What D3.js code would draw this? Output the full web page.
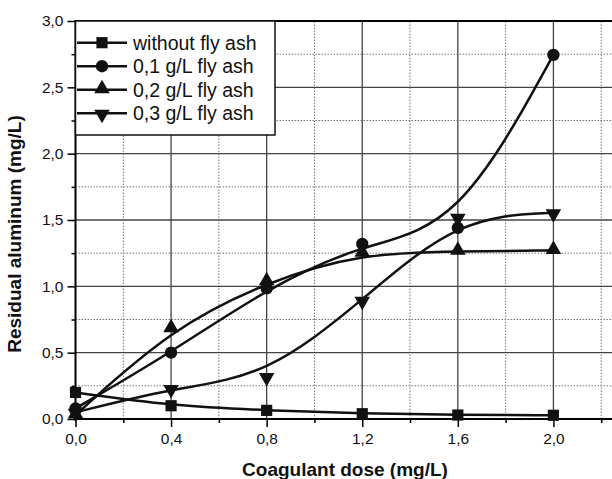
<!DOCTYPE html>
<html><head><meta charset="utf-8">
<script src="https://cdn.jsdelivr.net/npm/d3@7"></script>
<style>
html,body{margin:0;padding:0;background:#fff;}
svg{display:block;font-family:"Liberation Sans",Arial,sans-serif;}
</style></head>
<body>
<svg id="c" width="612" height="479"></svg>
<script>
const doses = [0.0, 0.4, 0.8, 1.2, 1.6, 2.0];
const seriesNames = ["without fly ash", "0,1 g/L fly ash", "0,2 g/L fly ash", "0,3 g/L fly ash"];
const withoutFlyAsh = [0.20, 0.10, 0.065, 0.04, 0.03, 0.028];
const flyAsh01 = [0.08, 0.50, 0.985, 1.32, 1.44, 2.745];
const flyAsh02 = [0.03, 0.68, 1.035, 1.25, 1.265, 1.27];
const flyAsh03 = [0.05, 0.23, 0.32, 0.895, 1.52, 1.555];
const markerTypes = ["square", "circle", "up", "down"];
const xTicks = [0.0, 0.4, 0.8, 1.2, 1.6, 2.0];
const yTicks = [0.0, 0.5, 1.0, 1.5, 2.0, 2.5, 3.0];

const svg = d3.select("#c");
const x = d3.scaleLinear().domain([0, 2.4]).range([75.5, 649]);
const y = d3.scaleLinear().domain([0, 3.0]).range([419, 21]);
const fmt = d => d.toFixed(1).replace(".", ",");

svg.append("defs").append("clipPath").attr("id", "pc")
  .append("rect").attr("x", 75).attr("y", 15).attr("width", 540).attr("height", 410);

const grid = svg.append("g").attr("clip-path", "url(#pc)");
const xMinor = d3.range(0.2, 2.41, 0.4);
const yMinor = d3.range(0.25, 3.0, 0.5);
grid.selectAll(".xm").data(xMinor).join("line")
  .attr("x1", d => x(d)).attr("x2", d => x(d)).attr("y1", y(0)).attr("y2", y(3))
  .attr("stroke", "#777").attr("stroke-width", 1).attr("stroke-dasharray", "1.5,1.5");
grid.selectAll(".ym").data(yMinor).join("line")
  .attr("x1", x(0)).attr("x2", 612).attr("y1", d => y(d)).attr("y2", d => y(d))
  .attr("stroke", "#777").attr("stroke-width", 1).attr("stroke-dasharray", "1.5,1.5");
grid.selectAll(".xM").data(xTicks.slice(1)).join("line")
  .attr("x1", d => x(d)).attr("x2", d => x(d)).attr("y1", y(0)).attr("y2", y(3))
  .attr("stroke", "#444").attr("stroke-width", 1.3);
grid.selectAll(".yM").data(yTicks.slice(1, -1)).join("line")
  .attr("x1", x(0)).attr("x2", 612).attr("y1", d => y(d)).attr("y2", d => y(d))
  .attr("stroke", "#444").attr("stroke-width", 1.3);

// axes
const yAxis = svg.append("g").attr("transform", `translate(${x(0)},0)`)
  .call(d3.axisLeft(y).tickValues(yTicks).tickFormat(fmt).tickSize(8).tickPadding(4));
const yAxisMinor = svg.append("g").attr("transform", `translate(${x(0)},0)`)
  .call(d3.axisLeft(y).tickValues(yMinor).tickFormat("").tickSize(4));
const xAxis = svg.append("g").attr("transform", `translate(0,${y(0)})`)
  .call(d3.axisBottom(x).tickValues(xTicks.concat([2.4])).tickFormat(d => d > 2.1 ? "" : fmt(d)).tickSize(8).tickPadding(6));
const xAxisMinor = svg.append("g").attr("transform", `translate(0,${y(0)})`)
  .call(d3.axisBottom(x).tickValues(xMinor).tickFormat("").tickSize(4));
[yAxis, yAxisMinor, xAxis, xAxisMinor].forEach(g => {
  g.select(".domain").remove();
  g.selectAll(".tick line").attr("stroke", "#000").attr("stroke-width", 1.5);
  g.selectAll("text").attr("font-size", 15.5).attr("fill", "#111")
    .attr("font-family", "'Liberation Sans',Arial,sans-serif");
});
svg.append("line").attr("x1", x(0)).attr("x2", x(0)).attr("y1", y(3) - 1).attr("y2", y(0) + 1)
  .attr("stroke", "#000").attr("stroke-width", 2);
svg.append("line").attr("x1", x(0)).attr("x2", 612).attr("y1", y(0)).attr("y2", y(0))
  .attr("stroke", "#000").attr("stroke-width", 2);
svg.append("line").attr("x1", x(0)).attr("x2", 612).attr("y1", y(3)).attr("y2", y(3))
  .attr("stroke", "#000").attr("stroke-width", 2);

// axis titles
svg.append("text").attr("x", 345).attr("y", 476).attr("text-anchor", "middle")
  .attr("font-size", 19).attr("font-weight", "bold").attr("fill", "#111")
  .text("Coagulant dose (mg/L)");
svg.append("text").attr("transform", "translate(21,234) rotate(-90)").attr("text-anchor", "middle")
  .attr("font-size", 19).attr("font-weight", "bold").attr("fill", "#111")
  .text("Residual aluminum (mg/L)");

// series
const allSeries = [withoutFlyAsh, flyAsh01, flyAsh02, flyAsh03];
const line = d3.line().x((d, i) => x(doses[i])).y(d => y(d)).curve(d3.curveBasis);
const symFor = t => t === "square" ? d3.symbol().type(d3.symbolSquare).size(125)
  : t === "circle" ? d3.symbol().type(d3.symbolCircle).size(120)
  : d3.symbol().type(d3.symbolTriangle).size(105);
function drawMarker(g, t, cx, cy) {
  const rot = t === "down" ? 180 : 0;
  const dy = t === "up" ? -1 : (t === "down" ? 1 : 0);
  g.append("path").attr("d", symFor(t)())
    .attr("transform", `translate(${cx},${cy + dy}) rotate(${rot})`)
    .attr("fill", "#111");
}
allSeries.forEach(vals => {
  svg.append("path").datum(vals).attr("d", line)
    .attr("fill", "none").attr("stroke", "#111").attr("stroke-width", 2.5);
});
allSeries.forEach((vals, si) => {
  const g = svg.append("g");
  vals.forEach((v, i) => drawMarker(g, markerTypes[si], x(doses[i]), y(v)));
});

// legend
const lg = svg.append("g");
lg.append("rect").attr("x", x(0)).attr("y", y(3)).attr("width", 275 - x(0)).attr("height", 135 - y(3))
  .attr("fill", "#fff").attr("stroke", "#111").attr("stroke-width", 1.5);
seriesNames.forEach((name, i) => {
  const ry = 42.7 + i * 23.5;
  lg.append("line").attr("x1", 77).attr("x2", 127).attr("y1", ry).attr("y2", ry)
    .attr("stroke", "#111").attr("stroke-width", 2.5);
  drawMarker(lg, markerTypes[i], 102, ry);
  lg.append("text").attr("x", 133).attr("y", ry + 7).attr("font-size", 19.5).attr("fill", "#111")
    .text(name);
});
</script>
</body></html>
